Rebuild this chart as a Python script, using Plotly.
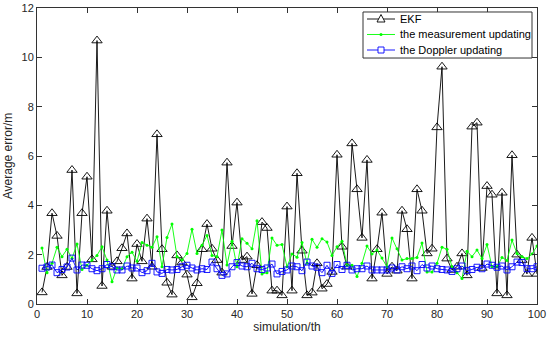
import plotly.graph_objects as go

sim = list(range(1, 101))

ekf = [0.47, 1.5, 3.68, 2.76, 1.16, 1.5, 5.43, 0.43, 3.68, 5.16,
       1.81, 10.68, 0.73, 3.78, 1.51, 1.73, 2.26, 2.86, 1.03, 2.43,
       1.73, 3.46, 1.51, 6.88, 2.22, 0.86, 0.38, 1.97, 1.68, 1.19,
       0.27, 0.84, 2.22, 3.24, 2.24, 1.78, 1.27, 5.73, 2.35, 4.11,
       1.78, 1.92, 0.41, 1.57, 3.32, 3.08, 0.54, 0.54, 0.35, 3.95,
       0.54, 5.3, 2.16, 0.35, 0.46, 1.65, 0.62, 0.81, 1.3, 6.05,
       2.32, 1.51, 6.51, 4.65, 2.68, 5.84, 1.03, 2.22, 3.70, 1.22,
       1.51, 1.35, 3.78, 3.03, 1.03, 4.65, 3.78, 2.05, 2.24, 7.16,
       9.62, 1.84, 1.38, 1.51, 2.05, 1.16, 7.19, 7.35, 1.46, 4.78,
       4.43, 0.43, 4.51, 0.35, 6.03, 2.0, 1.78, 1.22, 2.68, 1.22]

meas = [2.27, 1.27, 1.65, 2.3, 1.92, 2.22, 1.85, 2.43, 1.4, 1.57,
        1.78, 1.97, 2.32, 1.78, 0.9, 1.46, 1.43, 1.92, 2.1, 1.73,
        2.49, 2.38, 2.3, 2.73, 1.51, 2.7, 3.24, 1.92, 1.78, 2.05,
        3.03, 2.05, 2.38, 2.78, 1.97, 1.92, 3.0, 1.58, 2.54, 1.51,
        2.65, 2.46, 2.24, 3.38, 1.22, 1.27, 2.68, 2.38, 2.41, 1.51,
        2.03, 1.9, 2.49, 1.65, 2.62, 2.3, 2.65, 2.51, 1.97, 2.32,
        2.54, 1.57, 1.57, 1.11, 1.65, 2.35, 2.03, 2.19, 1.86, 1.51,
        2.68, 2.24, 1.78, 1.84, 1.84, 1.89, 2.47, 1.3, 1.3, 1.65,
        2.3, 2.22, 1.51, 1.27, 1.03, 2.14, 1.92, 2.19, 1.84, 2.41,
        1.51, 1.51, 1.89, 1.76, 2.59, 2.05, 1.92, 1.84, 2.03, 2.35]

doppler = [1.45, 1.5, 1.58, 1.27, 1.4, 1.5, 1.86, 1.38, 1.58, 1.57,
           1.43, 1.35, 1.43, 1.6, 1.51, 1.38, 1.38, 1.54, 1.46, 1.46,
           1.27, 1.35, 1.65, 1.3, 1.24, 1.4, 1.38, 1.4, 1.51, 1.57,
           1.46, 1.38, 1.43, 1.4, 1.7, 1.43, 1.16, 1.22, 1.51, 1.68,
           1.54, 1.51, 1.65, 1.43, 1.4, 1.46, 1.62, 1.22, 1.32, 1.38,
           1.54, 1.51, 1.35, 1.7, 1.54, 1.49, 1.27, 1.57, 1.24, 1.6,
           1.4, 1.57, 1.38, 1.43, 1.43, 1.54, 1.38, 1.38, 1.38, 1.38,
           1.46, 1.38, 1.51, 1.43, 1.54, 1.35, 1.6, 1.46, 1.54, 1.43,
           1.4, 1.38, 1.32, 1.43, 1.54, 1.35, 1.4, 1.49, 1.43, 1.62,
           1.57, 1.49, 1.54, 1.38, 1.51, 1.7, 1.68, 1.43, 1.43, 1.51]

series_names = ["EKF", "the measurement updating", "the Doppler updating"]
series_colors = ["black", "#00ff00", "#0000ff"]

x_ticks = [0, 10, 20, 30, 40, 50, 60, 70, 80, 90, 100]
y_ticks = [0, 2, 4, 6, 8, 10, 12]

fig = go.Figure()
fig.add_trace(go.Scatter(
    x=sim, y=ekf, name=series_names[0], mode="lines+markers",
    line=dict(color=series_colors[0], width=0.9),
    marker=dict(symbol="triangle-up-open", size=9, color=series_colors[0],
                line=dict(width=0.9, color=series_colors[0]))))
fig.add_trace(go.Scatter(
    x=sim, y=meas, name=series_names[1], mode="lines+markers",
    line=dict(color=series_colors[1], width=0.9),
    marker=dict(symbol="circle", size=3, color=series_colors[1])))
fig.add_trace(go.Scatter(
    x=sim, y=doppler, name=series_names[2], mode="lines+markers",
    line=dict(color=series_colors[2], width=0.9),
    marker=dict(symbol="square-open", size=6, color=series_colors[2],
                line=dict(width=0.9, color=series_colors[2]))))

axis_common = dict(
    showline=True, linecolor="#333333", linewidth=1, mirror="ticks",
    ticks="inside", ticklen=5, tickcolor="#333333", tickwidth=1,
    showgrid=False, zeroline=False, automargin=False,
    tickfont=dict(family="Liberation Sans, Arial", size=11, color="#262626"),
)

# Compact MATLAB-style legend drawn as layout decoration (paper coords)
shapes = [dict(type="rect", xref="paper", yref="paper",
               x0=0.652, x1=0.99, y0=0.831, y1=0.9865,
               fillcolor="white", line=dict(color="#333333", width=1),
               layer="above")]
annotations = []
row_y = [0.9628, 0.9105, 0.8581]
mx = 0.688
for i, (nm, col) in enumerate(zip(series_names, series_colors)):
    yy = row_y[i]
    shapes.append(dict(type="line", xref="paper", yref="paper",
                       x0=0.66, x1=0.716, y0=yy, y1=yy,
                       line=dict(color=col, width=0.9), layer="above"))
    if i == 0:
        shapes.append(dict(type="path", xref="paper", yref="paper",
                           xsizemode="pixel", ysizemode="pixel",
                           xanchor=mx, yanchor=yy,
                           path="M-4,-3 L4,-3 L0,4.5 Z",
                           fillcolor="white", line=dict(color=col, width=0.9),
                           layer="above"))
    elif i == 1:
        shapes.append(dict(type="circle", xref="paper", yref="paper",
                           xsizemode="pixel", ysizemode="pixel",
                           xanchor=mx, yanchor=yy, x0=-1.5, x1=1.5, y0=-1.5, y1=1.5,
                           fillcolor=col, line=dict(color=col, width=0),
                           layer="above"))
    else:
        shapes.append(dict(type="rect", xref="paper", yref="paper",
                           xsizemode="pixel", ysizemode="pixel",
                           xanchor=mx, yanchor=yy, x0=-3, x1=3, y0=-3, y1=3,
                           fillcolor="white", line=dict(color=col, width=0.9),
                           layer="above"))
    annotations.append(dict(text=nm, xref="paper", yref="paper",
                            x=0.722, y=yy, xanchor="left", yanchor="middle",
                            showarrow=False,
                            font=dict(family="Liberation Sans, Arial", size=11,
                                      color="black")))

fig.update_layout(
    width=550, height=343,
    margin=dict(l=37, r=13, t=8, b=39),
    paper_bgcolor="white", plot_bgcolor="white",
    font=dict(family="Liberation Sans, Arial", size=11, color="#262626"),
    xaxis=dict(range=[0, 100], tickvals=x_ticks,
               title=dict(text="simulation/th", font=dict(size=12), standoff=3),
               **axis_common),
    yaxis=dict(range=[0, 12], tickvals=y_ticks,
               title=dict(text="Average error/m", font=dict(size=12), standoff=6),
               **axis_common),
    showlegend=False,
    shapes=shapes,
    annotations=annotations,
)

fig.write_html("out.html",
               config={"displayModeBar": False},
               post_script="document.body.style.margin='0';document.body.style.overflow='hidden';")
